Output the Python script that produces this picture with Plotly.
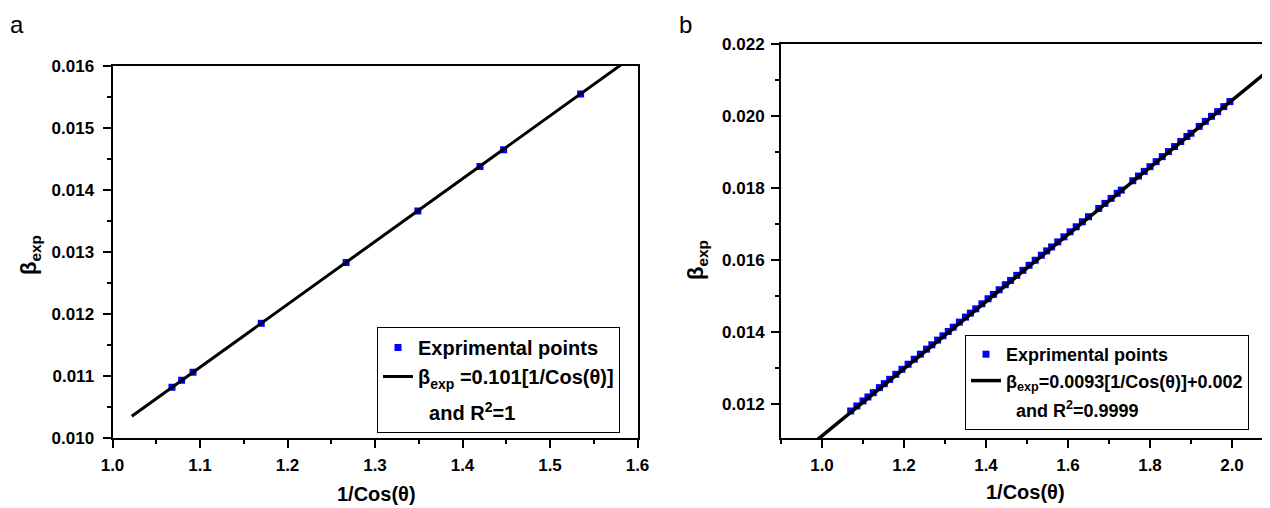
import plotly.graph_objects as go

# ---------- Panel a data ----------
a_x = [1.068, 1.079, 1.092, 1.170, 1.267, 1.349, 1.420, 1.447, 1.535]
a_y = [0.01082, 0.01093, 0.01106, 0.01185, 0.01283, 0.01366, 0.01438, 0.01465, 0.01555]
a_fit_x = [1.022, 1.600]
a_fit_y = [0.01035, 0.01621]

# ---------- Panel b data ----------
b_x = [1.070, 1.085, 1.100, 1.112, 1.125, 1.140, 1.152, 1.165, 1.180, 1.195,
       1.210, 1.225, 1.240, 1.255, 1.268, 1.282, 1.295, 1.308, 1.320, 1.335,
       1.350, 1.362, 1.375, 1.390, 1.405, 1.418, 1.432, 1.447, 1.460, 1.475,
       1.490, 1.505, 1.520, 1.535, 1.548, 1.560, 1.575, 1.590, 1.605, 1.620,
       1.635, 1.650, 1.675, 1.690, 1.705, 1.720, 1.730, 1.758, 1.772, 1.786,
       1.800, 1.815, 1.830, 1.845, 1.860, 1.875, 1.890, 1.900, 1.920, 1.935,
       1.950, 1.965, 1.980, 1.995]
b_y = [0.01180, 0.01194, 0.01208, 0.01219, 0.01231, 0.01245, 0.01256, 0.01268, 0.01282, 0.01296,
       0.01310, 0.01324, 0.01338, 0.01352, 0.01364, 0.01377, 0.01389, 0.01401, 0.01413, 0.01427,
       0.01441, 0.01452, 0.01464, 0.01478, 0.01492, 0.01504, 0.01517, 0.01531, 0.01543, 0.01557,
       0.01571, 0.01585, 0.01599, 0.01613, 0.01625, 0.01636, 0.01650, 0.01664, 0.01678, 0.01692,
       0.01706, 0.01720, 0.01743, 0.01757, 0.01771, 0.01785, 0.01794, 0.01820, 0.01833, 0.01846,
       0.01859, 0.01873, 0.01887, 0.01901, 0.01915, 0.01929, 0.01943, 0.01952, 0.01971, 0.01985,
       0.01999, 0.02012, 0.02026, 0.02040]
b_fit_x = [0.985, 2.110]
b_fit_y = [0.01097, 0.02146]

a_xticks = [1.0, 1.1, 1.2, 1.3, 1.4, 1.5, 1.6]
a_yticks = [0.010, 0.011, 0.012, 0.013, 0.014, 0.015, 0.016]
b_xticks = [1.0, 1.2, 1.4, 1.6, 1.8, 2.0]
b_yticks = [0.012, 0.014, 0.016, 0.018, 0.020, 0.022]

a_leg = ["<b>Exprimental points</b>",
         "<b>β<sub>exp</sub> =0.101[1/Cos(θ)]</b>",
         "<b>\u00a0\u00a0and R<sup>2</sup>=1</b>"]
b_leg = ["<b>Exprimental points</b>",
         "<b>β<sub>exp</sub>=0.0093[1/Cos(θ)]+0.002</b>",
         "<b>\u00a0\u00a0and R<sup>2</sup>=0.9999</b>"]

FONT = "Liberation Sans"
OFF = 8  # page body margin of the browser
W, H = 1270 - OFF, 508 - OFF

def px_x(p):
    return (p - OFF) / W

def px_y(p):
    return 1 - (p - OFF) / H

fig = go.Figure()

# Panel a
fig.add_trace(go.Scatter(x=a_x, y=a_y, mode="markers", xaxis="x", yaxis="y",
                         marker=dict(symbol="square", size=7, color="#0000FF"),
                         name=a_leg[0], legend="legend", legendgroup="a1"))
fig.add_trace(go.Scatter(x=a_fit_x, y=a_fit_y, mode="lines", xaxis="x", yaxis="y",
                         line=dict(color="black", width=3),
                         name=a_leg[1], legend="legend", legendgroup="a1"))
fig.add_trace(go.Scatter(x=[None], y=[None], mode="lines", xaxis="x", yaxis="y",
                         line=dict(color="rgba(0,0,0,0)", width=0),
                         name=a_leg[2], legend="legend", legendgroup="a2"))
# Panel b
fig.add_trace(go.Scatter(x=b_x, y=b_y, mode="markers", xaxis="x2", yaxis="y2",
                         marker=dict(symbol="square", size=7, color="#0000FF"),
                         name=b_leg[0], legend="legend2", legendgroup="b1"))
fig.add_trace(go.Scatter(x=b_fit_x, y=b_fit_y, mode="lines", xaxis="x2", yaxis="y2",
                         line=dict(color="black", width=3.5),
                         name=b_leg[1], legend="legend2", legendgroup="b1"))
fig.add_trace(go.Scatter(x=[None], y=[None], mode="lines", xaxis="x2", yaxis="y2",
                         line=dict(color="rgba(0,0,0,0)", width=0),
                         name=b_leg[2], legend="legend2", legendgroup="b2"))

tickfont = dict(family=FONT, size=17, color="black", weight="bold")

common = dict(showgrid=False, zeroline=False, showline=True, linecolor="black", linewidth=2,
              ticks="outside", ticklen=8, tickwidth=2, tickcolor="black", tickfont=tickfont,
              automargin=False)
minor_common = dict(ticklen=4, tickwidth=2, tickcolor="black")

a_bot, a_top = px_y(438), px_y(66)
b_bot, b_top = px_y(438), px_y(44)

ann_font = dict(family=FONT, size=20, color="black", weight="bold")
ytitle_font = dict(family=FONT, size=22, color="black", weight="bold")

fig.update_layout(
    width=W, height=H, margin=dict(l=0, r=0, t=0, b=0, autoexpand=False),
    plot_bgcolor="white", paper_bgcolor="white",
    xaxis=dict(domain=[px_x(112.5), px_x(637.5)], range=[1.0, 1.6], anchor="y",
               tickvals=a_xticks, ticktext=[f"{v:.1f}" for v in a_xticks], mirror=True,
               ticklabelstandoff=3,
               minor=dict(ticks="outside", dtick=0.05, **minor_common), **common),
    yaxis=dict(domain=[a_bot, a_top], range=[0.010, 0.016], anchor="x",
               tickvals=a_yticks, ticktext=[f"{v:.3f}" for v in a_yticks], mirror=True,
               ticklabelstandoff=5,
               minor=dict(ticks="outside", dtick=0.0005, **minor_common), **common),
    yaxis3=dict(overlaying="y", side="right", anchor="x", range=[0.010, 0.016],
                showgrid=False, zeroline=False, showticklabels=False, showline=False,
                tickvals=a_yticks, ticks="inside", ticklen=6, tickwidth=2, tickcolor="black",
                automargin=False,
                minor=dict(ticks="inside", dtick=0.0005, ticklen=3, tickwidth=2, tickcolor="black")),
    xaxis2=dict(domain=[px_x(781), 1.0], range=[0.9, 2.0927], anchor="y2",
                tickvals=b_xticks, ticktext=[f"{v:.1f}" for v in b_xticks], mirror=True,
                ticklabelstandoff=3,
                minor=dict(ticks="outside", dtick=0.1, tick0=0.9, **minor_common), **common),
    yaxis2=dict(domain=[b_bot, b_top], range=[0.01105, 0.022], anchor="x2",
                tickvals=b_yticks, ticktext=[f"{v:.3f}" for v in b_yticks],
                ticklabelstandoff=3,
                minor=dict(ticks="outside", dtick=0.001, tick0=0.011, **minor_common), **common),
    legend=dict(x=px_x(377), y=px_y(327), xanchor="left", yanchor="top",
                bgcolor="white", bordercolor="black", borderwidth=1,
                font=dict(family=FONT, size=20, color="black"),
                traceorder="grouped", tracegroupgap=7, valign="middle",
                itemwidth=30),
    legend2=dict(x=px_x(965), y=px_y(335), xanchor="left", yanchor="top",
                 bgcolor="white", bordercolor="black", borderwidth=1,
                 font=dict(family=FONT, size=18, color="black"),
                 traceorder="grouped", tracegroupgap=3, valign="middle",
                 itemwidth=30),
    showlegend=True,
    annotations=[
        dict(text="a", x=px_x(8), y=px_y(24), xref="paper", yref="paper",
             xanchor="left", yanchor="middle", showarrow=False,
             font=dict(family=FONT, size=24, color="black")),
        dict(text="b", x=px_x(677), y=px_y(24), xref="paper", yref="paper",
             xanchor="left", yanchor="middle", showarrow=False,
             font=dict(family=FONT, size=24, color="black")),
        dict(text="1/Cos(θ)", x=px_x(376), y=px_y(494), xref="paper", yref="paper",
             xanchor="center", yanchor="middle", showarrow=False, font=ann_font),
        dict(text="1/Cos(θ)", x=px_x(1025), y=px_y(492), xref="paper", yref="paper",
             xanchor="center", yanchor="middle", showarrow=False, font=ann_font),
        dict(text="β<sub>exp</sub>", x=px_x(30), y=px_y(255), xref="paper", yref="paper",
             xanchor="center", yanchor="middle", showarrow=False, textangle=-90, font=ytitle_font),
        dict(text="β<sub>exp</sub>", x=px_x(697), y=px_y(260), xref="paper", yref="paper",
             xanchor="center", yanchor="middle", showarrow=False, textangle=-90, font=ytitle_font),
    ],
)

fig.write_html("out.html")
